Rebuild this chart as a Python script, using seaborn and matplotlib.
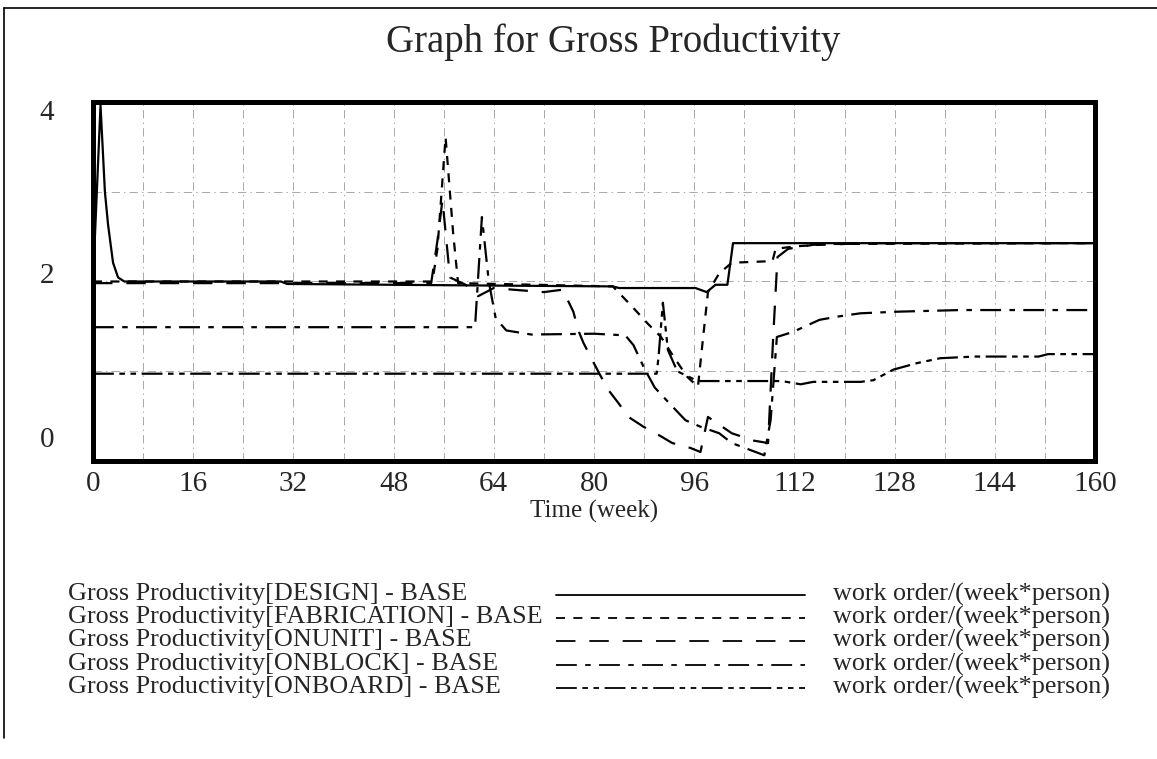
import matplotlib
matplotlib.use("Agg")
import matplotlib.pyplot as plt
from matplotlib.lines import Line2D
import seaborn as sns

W, H = 1157, 759

# week -> gross productivity
design_t = [0, 1.2, 1.9, 2.4, 3.2, 4.0, 5.0, 30, 31, 64, 83, 84, 96.2, 98.0, 99.4, 101.3, 102.2, 160]
design_y = [1.9, 4.06, 3.0, 2.6, 2.13, 1.95, 1.9, 1.9, 1.87, 1.85, 1.84, 1.82, 1.82, 1.77, 1.86, 1.86, 2.37, 2.37]

fab_t = [0, 5.0, 54.2, 55.0, 56.3, 57.5, 58.3, 83.0, 84.5, 86.0, 88.5, 90.7, 92.7, 94.9, 96.6,
         97.4, 98.2, 100.0, 102.0, 108.5, 109.0, 112.0, 118.0, 160]
fab_y = [1.9, 1.9, 1.9, 2.3, 3.67, 2.5, 1.88, 1.84, 1.72, 1.6, 1.39, 1.22, 0.98, 0.73, 0.61,
         1.2, 1.77, 2.0, 2.13, 2.15, 2.3, 2.33, 2.36, 2.37]

unit_t = [0, 54.0, 55.0, 55.8, 57.0, 59.5, 61.5, 64.0, 67.0, 72.0, 75.0, 76.7, 77.5, 78.3, 79.7,
          81.0, 82.3, 83.9, 85.5, 87.9, 90.3, 92.5, 95.4, 97.0, 98.2, 102.0, 105.5, 107.8,
          108.6, 109.3, 111.0, 115.0, 125.0, 160]
unit_y = [1.88, 1.88, 2.4, 2.9, 1.95, 1.86, 1.72, 1.82, 1.8, 1.77, 1.8, 1.53, 1.3, 1.15, 0.94,
          0.75, 0.57, 0.41, 0.24, 0.12, 0.02, -0.08, -0.14, -0.19, 0.24, 0.04, -0.05, -0.08,
          1.2, 2.2, 2.3, 2.35, 2.37, 2.37]

block_t = [0, 61.0, 62.1, 63.2, 64.3, 66.0, 70.0, 80.0, 85.0, 86.3, 88.0, 89.7, 92.0, 94.6,
           97.0, 100.0, 102.0, 107.2, 108.2, 109.2, 111.7, 116.0, 118.9, 122.5, 128.4, 138.5, 160]
block_y = [1.34, 1.34, 2.69, 1.9, 1.45, 1.3, 1.25, 1.26, 1.24, 1.12, 0.84, 0.6, 0.41, 0.2,
           0.12, 0.04, -0.08, -0.23, 0.2, 1.22, 1.28, 1.43, 1.47, 1.51, 1.53, 1.55, 1.55]

board_t = [0, 90.0, 90.3, 91.0, 91.8, 93.3, 96.0, 97.0, 110.0, 113.0, 115.0, 122.6, 124.6,
           127.8, 131.6, 135.3, 140.8, 151.0, 152.5, 160]
board_y = [0.77, 0.77, 0.97, 1.64, 1.06, 0.8, 0.7, 0.68, 0.68, 0.64, 0.67, 0.67, 0.69,
           0.82, 0.9, 0.96, 0.98, 0.98, 1.01, 1.01]

names = ["DESIGN", "FABRICATION", "ONUNIT", "ONBLOCK", "ONBOARD"]
series = [(design_t, design_y), (fab_t, fab_y), (unit_t, unit_y),
          (block_t, block_y), (board_t, board_y)]
styles = ["-", (0, (6.5, 6)), (0, (14, 10)), (0, (15, 6, 4, 6)), (0, (15, 4, 4, 4, 4, 4))]

x_major = list(range(0, 161, 16))
x_minor = list(range(8, 160, 16))
y_labels = [0, 2, 4]
y_grid = [0.8, 1.9, 3.0]

sns.set_style("white")
plt.rcParams["font.family"] = ["Liberation Serif", "DejaVu Serif"]
plt.rcParams["lines.scale_dashes"] = False

fig = plt.figure(figsize=(W / 100, H / 100), dpi=100)
ax = fig.add_axes([93 / W, 1 - 461 / H, 1002 / W, 359 / H])

for (t, y), ls in zip(series, styles):
    sns.lineplot(x=t, y=y, ax=ax, color="black", linewidth=1.6, linestyle=ls,
                 estimator=None, sort=False)

ax.set_xlim(0, 160)
ax.set_ylim(-0.3, 4.1)
ax.set_xticks(x_major)
ax.set_xticks(x_minor, minor=True)
ax.set_yticks(y_labels)
ax.set_yticks(y_grid, minor=True)
grid_kw = dict(color="#9a9a9a", linewidth=0.6, linestyle=(0, (6, 3, 1, 3)))
ax.xaxis.grid(True, which="both", **grid_kw)
ax.yaxis.grid(True, which="minor", **grid_kw)
ax.yaxis.grid(False, which="major")
ax.tick_params(axis="x", which="both", direction="in", length=5, width=0.8, color="#555555",
               pad=7, labelsize=21)
ax.tick_params(axis="y", which="both", length=0, pad=28, labelsize=21)
for s in ax.spines.values():
    s.set_linewidth(3.6)
    s.set_color("black")
ax.set_xlabel("Time (week)", fontsize=18, labelpad=2)
ax.set_ylabel("")

fig.text(613 / W, 1 - 42 / H, "Graph for Gross Productivity", ha="center", va="center",
         fontsize=28)

# legend block
rows = [594, 617, 640, 664, 687]
for name, ls, py in zip(names, styles, rows):
    fy = 1 - py / H
    fig.text(68 / W, fy, f"Gross Productivity[{name}] - BASE", ha="left", va="center",
             fontsize=18.8)
    fig.add_artist(Line2D([556 / W, 805 / W], [fy - 1 / H, fy - 1 / H], color="black",
                          linewidth=1.3, linestyle=ls, transform=fig.transFigure))
    fig.text(833 / W, fy, "work order/(week*person)", ha="left", va="center", fontsize=18.8)

# outer frame lines (top and left)
fig.add_artist(Line2D([4 / W, 1], [1 - 8 / H, 1 - 8 / H], color="black", linewidth=1.2,
                      transform=fig.transFigure))
fig.add_artist(Line2D([4 / W, 4 / W], [1 - 8 / H, 1 - 738 / H], color="black", linewidth=1.2,
                      transform=fig.transFigure))

fig.savefig("out.png", dpi=100)
